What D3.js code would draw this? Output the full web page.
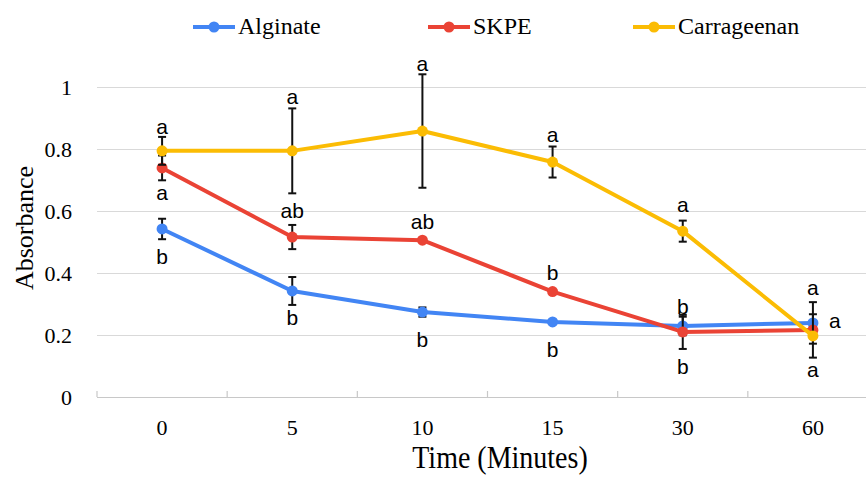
<!DOCTYPE html>
<html>
<head>
<meta charset="utf-8">
<script src="https://cdn.jsdelivr.net/npm/d3@7"></script>
<style>
  body { margin: 0; background: #fff; }
  svg { display: block; }
</style>
</head>
<body>
<div class="chart"></div>
<script>
const categories = ["0", "5", "10", "15", "30", "60"];
const seriesNames = ["Alginate", "SKPE", "Carrageenan"];

const alginate = [0.542, 0.342, 0.274, 0.242, 0.229, 0.239];
const alginateErr = [0.033, 0.045, 0.015, 0, 0.03, 0.067];
const skpe = [0.739, 0.516, 0.506, 0.34, 0.21, 0.216];
const skpeErr = [0.04, 0.039, 0, 0, 0.055, 0.01];
const carrageenan = [0.794, 0.794, 0.858, 0.758, 0.535, 0.197];
const carrageenanErr = [0.045, 0.137, 0.183, 0.05, 0.034, 0.07];

// significance letters and where they sit (in absorbance units)
const alginateLetters = ["b", "b", "b", "b", "b", "a"];
const alginateLetterY = [0.452, 0.255, 0.184, 0.152, 0.29, 0.352];
const skpeLetters = ["a", "ab", "ab", "b", "b", "a"];
const skpeLetterY = [0.658, 0.6, 0.565, 0.4, 0.097, 0.245];
const carrageenanLetters = ["a", "a", "a", "a", "a", "a"];
const carrageenanLetterY = [0.871, 0.968, 1.074, 0.845, 0.619, 0.087];

const yTicks = [0, 0.2, 0.4, 0.6, 0.8, 1];

const WIDTH = 866;
const HEIGHT = 487;
const COLORS = ["#4285F4", "#EA4335", "#FBBC04"];
const SERIF = "'Liberation Serif', 'Times New Roman', serif";
const SANS = "'Liberation Sans', Arial, sans-serif";

const series = [
  { name: seriesNames[0], values: alginate, err: alginateErr, letters: alginateLetters, letterY: alginateLetterY, right: [] },
  { name: seriesNames[1], values: skpe, err: skpeErr, letters: skpeLetters, letterY: skpeLetterY, right: ["60"] },
  { name: seriesNames[2], values: carrageenan, err: carrageenanErr, letters: carrageenanLetters, letterY: carrageenanLetterY, right: [] },
];

const svg = d3.select(".chart").append("svg")
  .attr("width", WIDTH)
  .attr("height", HEIGHT);

const xScale = d3.scaleBand().domain(categories).range([97, 878]).padding(0);
const xMid = (c) => xScale(c) + xScale.bandwidth() / 2;
const yScale = d3.scaleLinear().domain([0, 1]).range([397, 87]);

// gridlines + y labels
const yAxis = d3.axisLeft(yScale)
  .tickValues(yTicks)
  .tickFormat(d3.format("~g"))
  .tickSize(-(WIDTH - 97))
  .tickPadding(25);

const yg = svg.append("g")
  .attr("transform", "translate(97,0)")
  .call(yAxis)
  .attr("font-family", SERIF);
yg.select(".domain").remove();
yg.selectAll(".tick line")
  .attr("stroke", (d) => (d === 0 ? "#c8c8c8" : "#d9d9d9"))
  .attr("stroke-width", 1.2);
yg.selectAll(".tick text")
  .style("font-family", SERIF)
  .attr("font-size", 22)
  .attr("fill", "#000");

// x axis labels
const xg = svg.append("g")
  .attr("transform", "translate(0,397)")
  .call(d3.axisBottom(xScale).tickSize(0).tickPadding(22))
  .attr("font-family", SERIF);
xg.select(".domain").remove();
xg.selectAll(".tick text")
  .style("font-family", SERIF)
  .attr("font-size", 22)
  .attr("fill", "#000");

// category boundary ticks
svg.append("g")
  .selectAll("line")
  .data(categories)
  .join("line")
  .attr("x1", (c) => xScale(c))
  .attr("x2", (c) => xScale(c))
  .attr("y1", yScale(0))
  .attr("y2", yScale(0) - 6)
  .attr("stroke", "#c8c8c8")
  .attr("stroke-width", 1.2);

// axis titles
svg.append("text")
  .attr("transform", "translate(33,228) rotate(-90)")
  .attr("text-anchor", "middle")
  .style("font-family", SERIF)
  .attr("font-size", 26)
  .text("Absorbance");

svg.append("text")
  .attr("transform", "translate(500,468) scale(1,1.12)")
  .attr("text-anchor", "middle")
  .style("font-family", SERIF)
  .attr("font-size", 28)
  .text("Time (Minutes)");

const line = d3.line()
  .x((d, i) => xMid(categories[i]))
  .y((d) => yScale(d));

series.forEach((s, si) => {
  const g = svg.append("g");

  // error bars
  const eb = g.append("g")
    .selectAll("g")
    .data(categories.map((c, i) => ({ c, v: s.values[i], e: s.err[i] })).filter((d) => d.e > 0))
    .join("g")
    .attr("stroke", "#111")
    .attr("stroke-width", 2);
  eb.append("line")
    .attr("x1", (d) => xMid(d.c)).attr("x2", (d) => xMid(d.c))
    .attr("y1", (d) => yScale(d.v + d.e)).attr("y2", (d) => yScale(d.v - d.e));
  eb.append("line")
    .attr("x1", (d) => xMid(d.c) - 4).attr("x2", (d) => xMid(d.c) + 4)
    .attr("y1", (d) => yScale(d.v + d.e)).attr("y2", (d) => yScale(d.v + d.e));
  eb.append("line")
    .attr("x1", (d) => xMid(d.c) - 4).attr("x2", (d) => xMid(d.c) + 4)
    .attr("y1", (d) => yScale(d.v - d.e)).attr("y2", (d) => yScale(d.v - d.e));

  g.append("path")
    .attr("d", line(s.values))
    .attr("fill", "none")
    .attr("stroke", COLORS[si])
    .attr("stroke-width", 4)
    .attr("stroke-linejoin", "round");

  g.append("g")
    .selectAll("circle")
    .data(s.values)
    .join("circle")
    .attr("cx", (d, i) => xMid(categories[i]))
    .attr("cy", (d) => yScale(d))
    .attr("r", 5.5)
    .attr("fill", COLORS[si]);
});

// letters on top
series.forEach((s) => {
  svg.append("g")
    .selectAll("text")
    .data(s.letters)
    .join("text")
    .attr("x", (d, i) => xMid(categories[i]) + (s.right.includes(categories[i]) ? 16 : 0))
    .attr("y", (d, i) => yScale(s.letterY[i]))
    .attr("dy", "0.35em")
    .attr("text-anchor", (d, i) => (s.right.includes(categories[i]) ? "start" : "middle"))
    .style("font-family", SANS)
    .attr("font-size", 21)
    .attr("fill", "#000")
    .text((d) => d);
});

// legend
const legendX = [193, 428, 633];
const legend = svg.append("g")
  .selectAll("g")
  .data(seriesNames)
  .join("g")
  .attr("transform", (d, i) => `translate(${legendX[i]},27)`);
legend.append("line")
  .attr("x1", 0).attr("x2", 42)
  .attr("stroke", (d, i) => COLORS[i])
  .attr("stroke-width", 4);
legend.append("circle")
  .attr("cx", 21)
  .attr("r", 5.5)
  .attr("fill", (d, i) => COLORS[i]);
legend.append("text")
  .attr("x", 45)
  .attr("y", 7)
  .style("font-family", SERIF)
  .attr("font-size", 24)
  .text((d) => d);
</script>
</body>
</html>
